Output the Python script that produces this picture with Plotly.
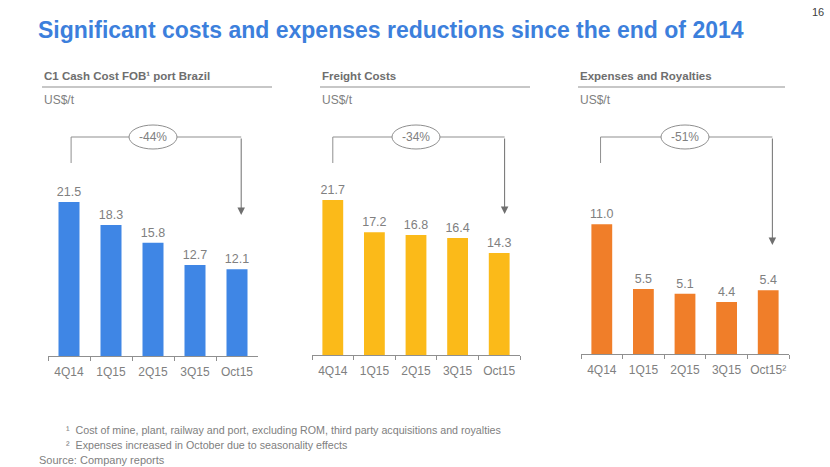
import plotly.graph_objects as go

# ---- data ----
categories = ["4Q14", "1Q15", "2Q15", "3Q15", "Oct15"]
categories_exp = ["4Q14", "1Q15", "2Q15", "3Q15", "Oct15²"]
c1_cash_cost = [21.5, 18.3, 15.8, 12.7, 12.1]
freight_costs = [21.7, 17.2, 16.8, 16.4, 14.3]
expenses_royalties = [11.0, 5.5, 5.1, 4.4, 5.4]
reductions = ["-44%", "-34%", "-51%"]
panel_titles = ["C1 Cash Cost FOB¹ port Brazil", "Freight Costs", "Expenses and Royalties"]
unit_label = "US$/t"
title_text = "Significant costs and expenses reductions since the end of 2014"
page_number = "16"
footnotes = [
    "¹  Cost of mine, plant, railway and port, excluding ROM, third party acquisitions and royalties",
    "²  Expenses increased in October due to seasonality effects",
]
source_text = "Source: Company reports"

# ---- style / layout ----
W, H = 830, 467
FONT = "Liberation Sans, Arial, sans-serif"
GREY = "#808080"
DARK_GREY = "#6e6e6e"
LINE_GREY = "#8f8f8f"
TITLE_BLUE = "#3C7FDC"
colors = ["#3F86E5", "#FBBA19", "#F07E29"]


def fx(px):
    return px / W


def fy(py):
    return 1 - py / H


panels = [
    dict(cats=categories, vals=c1_cash_cost, x0=48, x1=258, base=356, scale=7.16,
         hx=42, ulx1=272, loff=0.05, roff=0.1, tip=215),
    dict(cats=categories, vals=freight_costs, x0=312, x1=520, base=355, scale=7.14,
         hx=320, ulx1=530, loff=0.0, roff=0.13, tip=214),
    dict(cats=categories_exp, vals=expenses_royalties, x0=581, x1=789, base=354, scale=11.8,
         hx=578, ulx1=785, loff=-0.03, roff=0.1, tip=245),
]
TOP_PX = 120
BRACKET_Y = 137
LEFT_END = 163

fig = go.Figure()
shapes = []
annotations = []
layout_axes = {}

for i, p in enumerate(panels):
    n = "" if i == 0 else str(i + 1)
    xa, ya = "x" + n, "y" + n
    fig.add_trace(go.Bar(
        x=p["cats"], y=p["vals"], xaxis=xa, yaxis=ya,
        marker=dict(color=colors[i], line=dict(width=0)),
        texttemplate="%{y:.1f}", textposition="outside", constraintext="none",
        textfont=dict(family=FONT, size=12.5, color=GREY),
        cliponaxis=False, hoverinfo="skip",
    ))
    ymax = (p["base"] - TOP_PX) / p["scale"]
    layout_axes["xaxis" + n] = dict(
        domain=[fx(p["x0"]), fx(p["x1"])], anchor=ya, type="category",
        showline=True, linecolor=LINE_GREY, linewidth=1,
        ticks="outside", tickson="boundaries", ticklen=4, tickcolor=LINE_GREY,
        tickangle=0, ticklabelstandoff=5,
        tickfont=dict(family=FONT, size=12, color=GREY),
        showgrid=False, zeroline=False, fixedrange=True,
    )
    layout_axes["yaxis" + n] = dict(
        domain=[fy(p["base"]), fy(TOP_PX)], anchor=xa, range=[0, ymax],
        visible=False, showgrid=False, zeroline=False, fixedrange=True,
    )

    annotations.append(dict(
        x=fx(p["hx"]), y=fy(76), xref="paper", yref="paper", xanchor="left", yanchor="middle",
        text="<b>" + panel_titles[i] + "</b>", showarrow=False,
        font=dict(family=FONT, size=11.5, color=DARK_GREY)))
    shapes.append(dict(type="line", xref="paper", yref="paper",
                       x0=fx(p["hx"]), x1=fx(p["ulx1"]), y0=fy(87), y1=fy(87),
                       line=dict(color=LINE_GREY, width=1)))
    annotations.append(dict(
        x=fx(p["hx"]), y=fy(100), xref="paper", yref="paper", xanchor="left", yanchor="middle",
        text=unit_label, showarrow=False,
        font=dict(family=FONT, size=12, color=GREY)))

    lx = 0 + p["loff"]
    rx = len(p["cats"]) - 1 + p["roff"]
    shapes.append(dict(type="line", xref=xa, yref="paper", x0=lx, x1=rx,
                       y0=fy(BRACKET_Y), y1=fy(BRACKET_Y),
                       line=dict(color=LINE_GREY, width=1)))
    shapes.append(dict(type="line", xref=xa, yref="paper", x0=lx, x1=lx,
                       y0=fy(BRACKET_Y), y1=fy(LEFT_END),
                       line=dict(color=LINE_GREY, width=1)))
    shapes.append(dict(type="circle", xref=xa, yref="paper",
                       xsizemode="pixel", xanchor=2, x0=-24, x1=24,
                       ysizemode="pixel", yanchor=fy(BRACKET_Y), y0=-12, y1=12,
                       fillcolor="white", line=dict(color=LINE_GREY, width=1)))
    annotations.append(dict(
        x=2, y=fy(BRACKET_Y), xref=xa, yref="paper", text=reductions[i], showarrow=False,
        xanchor="center", yanchor="middle", font=dict(family=FONT, size=12, color=GREY)))
    annotations.append(dict(
        x=rx, y=fy(p["tip"]), xref=xa, yref="paper", text="", showarrow=True,
        ax=0, ay=-(p["tip"] - BRACKET_Y), arrowhead=2, arrowsize=1.5, arrowwidth=1,
        arrowcolor="#6f6f6f", standoff=0))

annotations.append(dict(
    x=fx(36), y=fy(30), xref="paper", yref="paper", xanchor="left", yanchor="middle",
    text="<b>" + title_text + "</b>", showarrow=False,
    font=dict(family=FONT, size=23, color=TITLE_BLUE)))
annotations.append(dict(
    x=fx(826), y=fy(12), xref="paper", yref="paper", xanchor="right", yanchor="middle",
    text=page_number, showarrow=False, font=dict(family=FONT, size=11, color="#404040")))

for k, t in enumerate(footnotes):
    annotations.append(dict(
        x=fx(64), y=fy(430 + 15 * k), xref="paper", yref="paper", xanchor="left", yanchor="middle",
        text=t, showarrow=False, font=dict(family=FONT, size=10.7, color=GREY)))
annotations.append(dict(
    x=fx(37), y=fy(460), xref="paper", yref="paper", xanchor="left", yanchor="middle",
    text=source_text, showarrow=False, font=dict(family=FONT, size=11, color=GREY)))

fig.update_layout(
    width=W, height=H, margin=dict(l=0, r=0, t=0, b=0),
    paper_bgcolor="white", plot_bgcolor="white", showlegend=False,
    bargap=0.5, shapes=shapes, annotations=annotations, **layout_axes,
)

fig.write_html("out.html", config={"displayModeBar": False})
